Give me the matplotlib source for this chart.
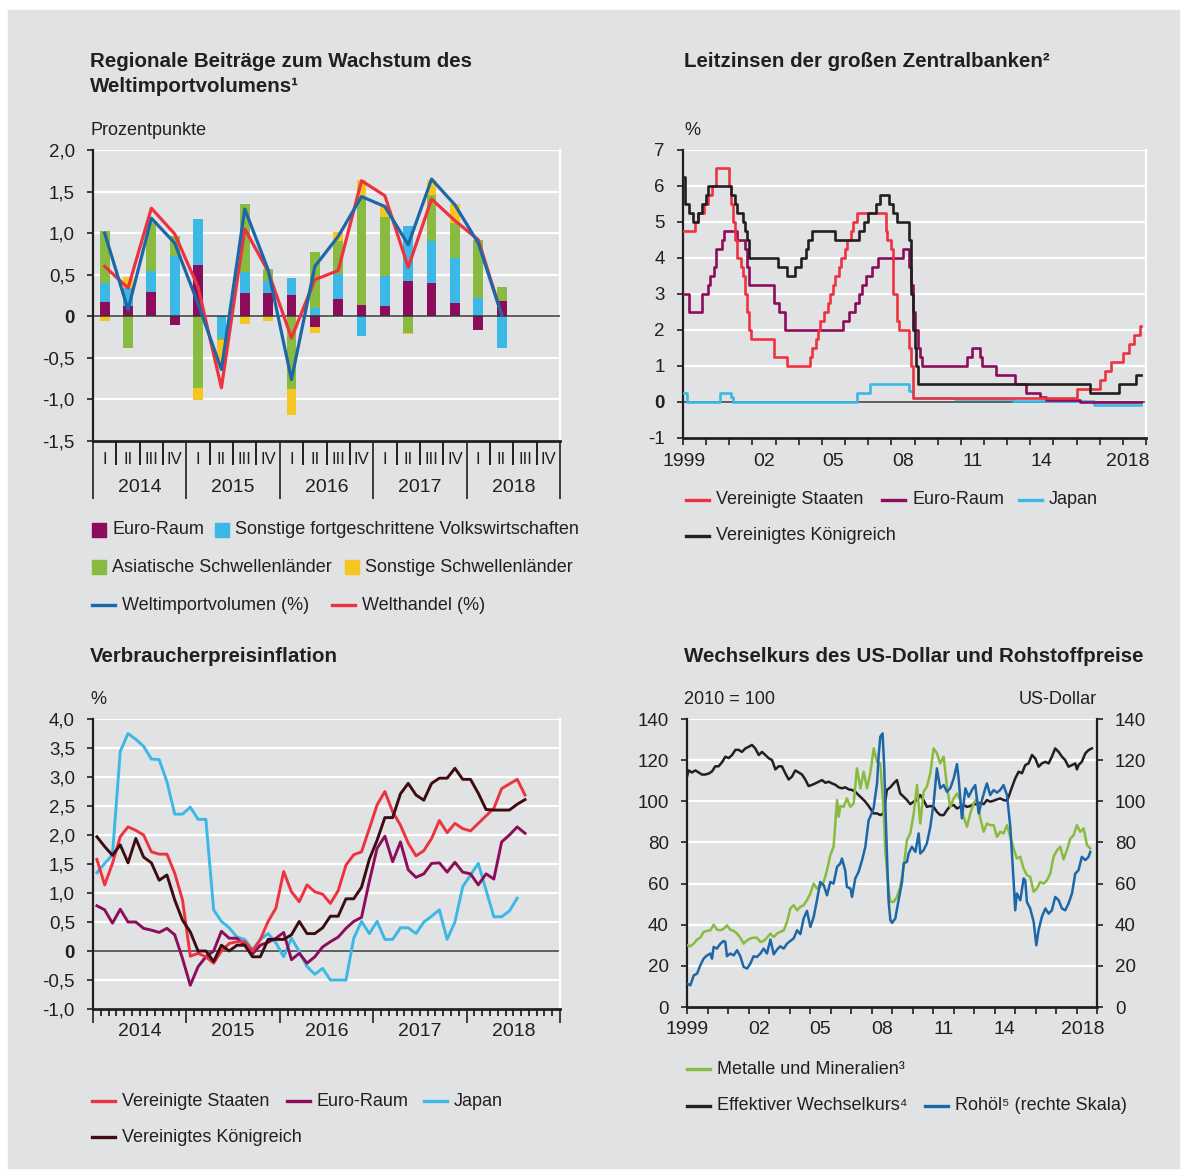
import numpy as np
import matplotlib.pyplot as plt
from matplotlib.patches import Rectangle
from matplotlib.lines import Line2D
from matplotlib import transforms

plt.rcParams['font.family'] = ['Liberation Sans', 'DejaVu Sans']
plt.rcParams['font.size'] = 12
INK = '#231f20'
plt.rcParams['text.color'] = INK

BG = '#e1e2e3'
RED = '#ee3340'
PURPLE = '#8c0d5b'
CYAN = '#3cb8e6'
GREEN = '#88bb3f'
YELLOW = '#f7c520'
NAVY = '#1d67a8'
DARK = '#3c0c10'

# ---- Panel 1: quarterly contributions (2014 Q1 .. 2018 Q2)
quarters = ['I', 'II', 'III', 'IV'] * 5
years_q = ['2014', '2015', '2016', '2017', '2018']
euro_contrib = [0.17, 0.12, 0.29, -0.10, 0.62, 0.0, 0.28, 0.28, 0.26, -0.13, 0.21, 0.14,
                0.12, 0.43, 0.40, 0.16, -0.17, 0.18]
adv_contrib = [0.23, 0.22, 0.26, 0.72, 0.55, -0.26, 0.25, 0.15, 0.20, 0.10, 0.30, -0.24,
               0.37, 0.66, 0.50, 0.54, 0.22, -0.38]
asia_contrib = [0.62, -0.38, 0.57, 0.24, -0.86, -0.03, 0.82, 0.14, -0.88, 0.67, 0.39, 1.28,
                0.71, -0.20, 0.56, 0.42, 0.70, 0.17]
em_contrib = [-0.06, 0.13, 0.03, 0.0, -0.15, -0.33, -0.09, -0.06, -0.31, -0.07, 0.11, 0.22,
              0.11, -0.01, 0.18, 0.23, 0.0, 0.0]
import_volume = [1.0, 0.08, 1.18, 0.88, 0.15, -0.64, 1.29, 0.56, -0.76, 0.60, 0.96, 1.44,
                 1.32, 0.86, 1.65, 1.34, 0.88, 0.02]
world_trade = [0.60, 0.34, 1.30, 0.99, 0.35, -0.86, 1.05, 0.54, -0.26, 0.44, 0.55, 1.63,
               1.45, 0.59, 1.41, 1.15, 0.92, 0.02]

# ---- Panel 2: policy rates, change dates and levels
us_rate_dates = ['1999-01', '1999-07', '1999-09', '1999-12', '2000-02', '2000-04', '2000-06',
                 '2001-01', '2001-02', '2001-03', '2001-04', '2001-05', '2001-07', '2001-08',
                 '2001-09', '2001-10', '2001-11', '2001-12', '2002-12', '2003-07', '2004-07',
                 '2004-08', '2004-10', '2004-11', '2004-12', '2005-02', '2005-04', '2005-05',
                 '2005-07', '2005-08', '2005-10', '2005-11', '2006-01', '2006-02', '2006-04',
                 '2006-05', '2006-07', '2007-10', '2007-11', '2008-01', '2008-02', '2008-04',
                 '2008-05', '2008-10', '2008-11', '2008-12', '2016-01', '2017-01', '2017-04',
                 '2017-07', '2018-01', '2018-04', '2018-07', '2018-10']
us_rate_vals = [4.75, 5.0, 5.25, 5.5, 5.75, 6.0, 6.5, 6.0, 5.5, 5.0, 4.5, 4.0, 3.75, 3.5, 3.0,
                2.5, 2.0, 1.75, 1.25, 1.0, 1.25, 1.5, 1.75, 2.0, 2.25, 2.5, 2.75, 3.0, 3.25,
                3.5, 3.75, 4.0, 4.25, 4.5, 4.75, 5.0, 5.25, 4.75, 4.5, 4.25, 3.0, 2.25, 2.0,
                1.5, 1.0, 0.125, 0.375, 0.625, 0.875, 1.125, 1.375, 1.625, 1.875, 2.125]
euro_rate_dates = ['1999-01', '1999-04', '1999-11', '2000-02', '2000-03', '2000-05', '2000-06',
                   '2000-09', '2000-10', '2001-05', '2001-09', '2001-10', '2001-11', '2002-12',
                   '2003-03', '2003-06', '2005-12', '2006-03', '2006-06', '2006-08', '2006-10',
                   '2006-12', '2007-03', '2007-06', '2008-07', '2008-10', '2008-11', '2008-12',
                   '2009-01', '2009-03', '2009-04', '2009-05', '2011-04', '2011-07', '2011-11',
                   '2011-12', '2012-07', '2013-05', '2013-11', '2014-06', '2014-09', '2016-03']
euro_rate_vals = [3.0, 2.5, 3.0, 3.25, 3.5, 3.75, 4.25, 4.5, 4.75, 4.5, 4.25, 3.75, 3.25, 2.75,
                  2.5, 2.0, 2.25, 2.5, 2.75, 3.0, 3.25, 3.5, 3.75, 4.0, 4.25, 3.75, 3.25, 2.5,
                  2.0, 1.5, 1.25, 1.0, 1.25, 1.5, 1.25, 1.0, 0.75, 0.5, 0.25, 0.15, 0.05, 0.0]
japan_rate_dates = ['1999-01', '1999-03', '2000-08', '2001-02', '2001-03', '2006-07', '2007-02',
                    '2008-10', '2008-12', '2010-10', '2013-04', '2016-10']
japan_rate_vals = [0.25, 0.0, 0.25, 0.15, 0.0, 0.25, 0.5, 0.3, 0.1, 0.07, 0.04, -0.07]
uk_rate_dates = ['1999-01', '1999-02', '1999-04', '1999-06', '1999-09', '1999-11', '2000-01',
                 '2000-02', '2001-02', '2001-04', '2001-05', '2001-08', '2001-09', '2001-10',
                 '2001-11', '2003-02', '2003-07', '2003-11', '2004-02', '2004-05', '2004-06',
                 '2004-08', '2005-08', '2006-08', '2006-11', '2007-01', '2007-05', '2007-07',
                 '2007-12', '2008-02', '2008-04', '2008-10', '2008-11', '2008-12', '2009-01',
                 '2009-02', '2009-03', '2016-08', '2017-11', '2018-08']
uk_rate_vals = [6.25, 5.5, 5.25, 5.0, 5.25, 5.5, 5.75, 6.0, 5.75, 5.5, 5.25, 5.0, 4.75, 4.5,
                4.0, 3.75, 3.5, 3.75, 4.0, 4.25, 4.5, 4.75, 4.5, 4.75, 5.0, 5.25, 5.5, 5.75,
                5.5, 5.25, 5.0, 4.5, 3.0, 2.0, 1.5, 1.0, 0.5, 0.25, 0.5, 0.75]
rate_end = 2018.78

# ---- Panel 3: monthly CPI inflation from Jan 2014
us_cpi = [1.58, 1.14, 1.51, 1.97, 2.14, 2.08, 2.0, 1.71, 1.67, 1.67, 1.34, 0.88,
          -0.09, -0.04, -0.1, -0.21, 0.0, 0.13, 0.16, 0.16, 0.0, 0.2, 0.51, 0.74,
          1.37, 1.02, 0.85, 1.14, 1.02, 0.98, 0.82, 1.04, 1.48, 1.66, 1.71, 2.11,
          2.52, 2.75, 2.40, 2.17, 1.86, 1.64, 1.73, 1.94, 2.25, 2.04, 2.2, 2.11,
          2.07, 2.2, 2.33, 2.46, 2.8, 2.88, 2.96, 2.69]
euro_cpi = [0.78, 0.71, 0.48, 0.72, 0.5, 0.5, 0.39, 0.36, 0.32, 0.39, 0.28, -0.13,
            -0.59, -0.27, -0.1, 0.0, 0.34, 0.22, 0.22, 0.1, -0.05, 0.1, 0.15, 0.22,
            0.32, -0.15, -0.04, -0.21, -0.1, 0.07, 0.16, 0.24, 0.39, 0.51, 0.58, 1.2,
            1.77, 1.98, 1.54, 1.88, 1.40, 1.27, 1.33, 1.51, 1.52, 1.36, 1.53, 1.36,
            1.33, 1.14, 1.33, 1.24, 1.88, 2.0, 2.14, 2.03]
japan_cpi = [1.35, 1.51, 1.66, 3.44, 3.75, 3.65, 3.53, 3.31, 3.30, 2.92, 2.36, 2.36,
             2.48, 2.27, 2.27, 0.71, 0.51, 0.40, 0.24, 0.2, 0.02, 0.2, 0.3, 0.14,
             -0.1, 0.22, -0.01, -0.27, -0.40, -0.30, -0.5, -0.5, -0.5, 0.22, 0.51, 0.3,
             0.51, 0.2, 0.2, 0.4, 0.4, 0.3, 0.5, 0.6, 0.71, 0.2, 0.5, 1.11,
             1.31, 1.51, 1.05, 0.59, 0.59, 0.69, 0.91]
uk_cpi = [1.97, 1.8, 1.65, 1.83, 1.52, 1.94, 1.62, 1.52, 1.22, 1.31, 0.88, 0.53,
          0.33, 0.0, 0.0, -0.18, 0.1, 0.0, 0.1, 0.1, -0.1, -0.1, 0.2, 0.2,
          0.2, 0.28, 0.51, 0.3, 0.3, 0.4, 0.6, 0.6, 0.9, 0.9, 1.1, 1.58,
          1.91, 2.3, 2.3, 2.71, 2.89, 2.69, 2.6, 2.89, 2.98, 2.98, 3.15, 2.96,
          2.96, 2.72, 2.44, 2.43, 2.43, 2.43, 2.53, 2.61]

# ---- Panel 4: exchange rate and commodity prices
fx_t = [1999.00, 1999.08, 1999.24, 1999.41, 1999.57, 1999.73, 1999.89, 2000.06, 2000.22,
        2000.38, 2000.54, 2000.71, 2000.87, 2001.03, 2001.20, 2001.36, 2001.52, 2001.68,
        2001.85, 2002.01, 2002.17, 2002.33, 2002.50, 2002.66, 2002.82, 2002.98, 2003.15,
        2003.31, 2003.47, 2003.63, 2003.80, 2003.96, 2004.12, 2004.28, 2004.45, 2004.61,
        2004.77, 2004.93, 2005.10, 2005.26, 2005.42, 2005.59, 2005.75, 2005.91, 2006.07,
        2006.24, 2006.40, 2006.56, 2006.72, 2006.89, 2007.05, 2007.21, 2007.37, 2007.54,
        2007.70, 2007.86, 2008.10, 2008.27, 2008.43, 2008.59, 2008.75, 2008.92, 2009.08,
        2009.24, 2009.40, 2009.57, 2009.73, 2009.89, 2010.05, 2010.22, 2010.38, 2010.54,
        2010.70, 2010.87, 2011.03, 2011.19, 2011.35, 2011.52, 2011.68, 2011.84, 2012.01,
        2012.17, 2012.33, 2012.49, 2012.66, 2012.82, 2012.98, 2013.14, 2013.31, 2013.47,
        2013.63, 2013.79, 2013.96, 2014.12, 2014.28, 2014.44, 2014.61, 2014.69, 2014.85,
        2015.01, 2015.18, 2015.34, 2015.50, 2015.66, 2015.83, 2015.99, 2016.15, 2016.31,
        2016.48, 2016.64, 2016.80, 2016.96, 2017.13, 2017.29, 2017.45, 2017.61, 2017.78,
        2017.94, 2018.02, 2018.10, 2018.26, 2018.43, 2018.59, 2018.75]
fx_v = [112, 115, 114, 115, 114, 113, 113, 113.5, 114.5, 117, 117, 119, 121.7, 121, 122.5,
        125, 125, 124, 125.7, 126.5, 127.4, 125.7, 122.5, 124, 122.5, 121, 120, 115.5, 117,
        117, 113.5, 110.6, 112, 115, 114, 113, 110.6, 107.4, 108, 108.7, 109.5, 110.3, 109,
        109.5, 108.7, 108, 106.8, 106.3, 106.8, 105.8, 105.5, 104.6, 103, 101.4, 99.8, 97.7,
        94.1, 94.1, 93.3, 94.1, 105.5, 106.8, 108.7, 110.3, 103.8, 102.2, 100.6, 98.6, 99.8,
        100.6, 103, 100.6, 97.3, 97.7, 97.3, 94.9, 93.3, 93.3, 95.7, 97.7, 98.2, 96.5, 97.3,
        98.2, 97.3, 97.7, 98.6, 98.6, 99.3, 98.6, 100.6, 99.8, 100.3, 100.9, 101.4, 100.6,
        100.3, 102.2, 106.8, 111.1, 114.4, 113.6, 117.6, 118.4, 122.5, 120.8, 116.8, 118.4,
        119.2, 118.4, 121.7, 125.7, 124, 121.7, 120, 116.8, 117.6, 118.4, 115.5, 117.6, 119.2,
        123.3, 124.9, 125.7]
metals_t = [1999.00, 1999.16, 1999.33, 1999.49, 1999.65, 1999.81, 1999.98, 2000.14, 2000.30,
            2000.46, 2000.63, 2000.79, 2000.95, 2001.11, 2001.28, 2001.44, 2001.60, 2001.76,
            2001.93, 2002.09, 2002.25, 2002.41, 2002.58, 2002.74, 2002.90, 2003.07, 2003.23,
            2003.39, 2003.55, 2003.72, 2003.88, 2004.04, 2004.20, 2004.37, 2004.53, 2004.69,
            2004.85, 2005.02, 2005.18, 2005.34, 2005.50, 2005.67, 2005.83, 2005.99, 2006.15,
            2006.32, 2006.40, 2006.48, 2006.64, 2006.80, 2006.97, 2007.13, 2007.29, 2007.46,
            2007.62, 2007.78, 2007.94, 2008.11, 2008.27, 2008.43, 2008.59, 2008.67, 2008.83,
            2008.92, 2009.08, 2009.24, 2009.40, 2009.57, 2009.73, 2009.89, 2010.05, 2010.22,
            2010.38, 2010.54, 2010.70, 2010.87, 2011.03, 2011.19, 2011.35, 2011.52, 2011.68,
            2011.84, 2012.01, 2012.17, 2012.33, 2012.49, 2012.66, 2012.82, 2012.98, 2013.14,
            2013.31, 2013.47, 2013.63, 2013.79, 2013.96, 2014.12, 2014.28, 2014.44, 2014.61,
            2014.77, 2014.93, 2015.09, 2015.26, 2015.42, 2015.58, 2015.74, 2015.91, 2016.07,
            2016.23, 2016.40, 2016.56, 2016.72, 2016.88, 2017.05, 2017.21, 2017.37, 2017.53,
            2017.70, 2017.86, 2018.02, 2018.18, 2018.35, 2018.51, 2018.67]
metals_v = [30, 29.5, 30.8, 32.8, 33.7, 36.5, 37, 37.3, 40, 37.6, 37.3, 38, 39.7, 37.6, 37,
            35.7, 33.7, 30.8, 32.4, 33.3, 33.7, 33.7, 31.6, 32.1, 33.7, 35.7, 34, 35.7, 36.5,
            37.3, 41.4, 47.9, 49.5, 47, 48.7, 49.5, 51.9, 55.2, 60, 57.6, 58.4, 60.8, 66.5,
            73.8, 77.9, 100.6, 92.5, 97.7, 97.3, 101.4, 97.3, 99, 116, 106.3, 114.4, 106.3,
            113.6, 125.7, 119.2, 118.4, 95.7, 76.2, 57.6, 51.1, 51.1, 53.5, 58.4, 68.1, 81.1,
            84.4, 93.3, 107.9, 89.2, 104.6, 107.1, 113.6, 125.7, 123.3, 118.4, 121.7, 107.1,
            97.3, 101.4, 103.8, 100.6, 92.5, 87.6, 94.1, 99, 101.4, 91.7, 85.2, 89.2, 88.4,
            88.4, 82.7, 85.2, 84.4, 88.4, 82.7, 77.1, 72.2, 73, 67.3, 64.1, 63.3, 56, 57.6,
            60.8, 60, 61.6, 64.9, 73, 76.2, 77.9, 71.7, 76.2, 81.9, 83.5, 88.4, 85.2, 86.8,
            78.7, 77.1]
oil_t = [1999.00, 1999.16, 1999.33, 1999.49, 1999.65, 1999.81, 1999.98, 2000.14, 2000.22,
         2000.30, 2000.46, 2000.63, 2000.79, 2000.87, 2000.95, 2001.11, 2001.28, 2001.44,
         2001.60, 2001.76, 2001.93, 2002.09, 2002.25, 2002.41, 2002.58, 2002.74, 2002.90,
         2003.07, 2003.23, 2003.39, 2003.55, 2003.72, 2003.88, 2004.04, 2004.20, 2004.37,
         2004.53, 2004.69, 2004.85, 2005.02, 2005.18, 2005.34, 2005.50, 2005.67, 2005.83,
         2005.99, 2006.15, 2006.32, 2006.48, 2006.56, 2006.72, 2006.80, 2006.97, 2007.05,
         2007.21, 2007.37, 2007.54, 2007.70, 2007.86, 2007.94, 2008.10, 2008.27, 2008.35,
         2008.43, 2008.54, 2008.62, 2008.72, 2008.83, 2008.92, 2009.00, 2009.16, 2009.32,
         2009.49, 2009.57, 2009.73, 2009.81, 2009.97, 2010.14, 2010.30, 2010.38, 2010.54,
         2010.70, 2010.87, 2011.03, 2011.19, 2011.35, 2011.52, 2011.68, 2011.84, 2012.01,
         2012.17, 2012.25, 2012.41, 2012.58, 2012.74, 2012.90, 2013.06, 2013.23, 2013.39,
         2013.55, 2013.63, 2013.79, 2013.96, 2014.12, 2014.28, 2014.44, 2014.61, 2014.77,
         2014.93, 2015.01, 2015.09, 2015.26, 2015.42, 2015.50, 2015.58, 2015.74, 2015.91,
         2016.04, 2016.15, 2016.31, 2016.48, 2016.64, 2016.80, 2016.96, 2017.13, 2017.29,
         2017.45, 2017.61, 2017.78, 2017.94, 2018.10, 2018.26, 2018.43, 2018.59, 2018.67]
oil_v = [11.4, 10.5, 15.4, 16.2, 20.3, 23.5, 25.1, 26, 23.5, 29.2, 28.4, 30.8, 32.1, 31.6,
         24.7, 26, 25.1, 27.6, 24.7, 19.5, 18.7, 21.1, 24.7, 24.3, 26, 28.4, 26, 32.8, 25.6,
         27.9, 29.5, 28.4, 30.8, 32.1, 33.3, 37.3, 35.4, 43, 46.7, 38.9, 43.8, 51.9, 60.8,
         59.2, 54.3, 60.8, 60, 68.1, 69.8, 72.2, 66.2, 58.4, 57.6, 53.5, 62.5, 65.7, 71.4,
         77.9, 90.8, 92.5, 96.5, 108.7, 122.5, 131.4, 133, 116.8, 84.4, 51.9, 42.2, 40.9, 43,
         51.9, 60.8, 69.8, 70.6, 74.6, 77.9, 75.4, 84.4, 74.6, 76.2, 79.5, 87.6, 99, 116,
         106.3, 107.9, 104.6, 106.3, 111.1, 118.1, 111.1, 91.7, 106.3, 102.2, 105.5, 107.9,
         94.1, 100.6, 106.3, 108.7, 103, 105.5, 104.2, 105.5, 107.9, 103, 87.6, 61.6, 47,
         55.2, 51.9, 62.5, 61.6, 51.1, 47.9, 41.4, 30, 37.3, 43.8, 47.9, 45.4, 47, 53.5,
         51.9, 47.9, 47, 50.3, 55.2, 64.9, 66.5, 73, 71.4, 73, 75.4]

W, H = 1181, 1172
fig = plt.figure(figsize=(W / 100, H / 100), dpi=100, facecolor='white')

TITLE_FS = 14.8
TEXT_FS = 13
TICK_FS = 13.5


def fx(px):
    return px / W


def fy(py):
    return 1 - py / H


def add_ax(l, t, r, b):
    ax = fig.add_axes([fx(l), fy(b), (r - l) / W, (b - t) / H])
    ax.set_facecolor('none')
    return ax


def style(ax, right_color='white'):
    ax.spines['top'].set_visible(False)
    ax.spines['left'].set_color(INK)
    ax.spines['left'].set_linewidth(1.6)
    ax.spines['bottom'].set_color(INK)
    ax.spines['bottom'].set_linewidth(2)
    ax.spines['right'].set_color(right_color)
    ax.spines['right'].set_linewidth(1.6)
    ax.yaxis.grid(True, color='white', lw=1.6)
    ax.set_axisbelow(True)
    ax.tick_params(axis='y', length=4, width=1.2, pad=9, labelsize=TICK_FS, color=INK,
                   labelcolor=INK)
    ax.tick_params(axis='x', color=INK, width=1.2)


def bold_zero(ax):
    for lbl in ax.get_yticklabels():
        if lbl.get_text() == '0':
            lbl.set_fontweight('bold')


def fmt(v):
    return '0' if v == 0 else f'{v:.1f}'.replace('.', ',')


def to_year(d):
    y, m = d.split('-')
    return int(y) + (int(m) - 1) / 12


def legend_line(x, y, color, label):
    fig.add_artist(Line2D([fx(x), fx(x + 23)], [fy(y), fy(y)], color=color, lw=2.4,
                          transform=fig.transFigure))
    fig.text(fx(x + 30), fy(y), label, va='center', fontsize=TEXT_FS)


def legend_box(x, y, color, label):
    fig.add_artist(Rectangle((fx(x), fy(y + 7)), 14 / W, 14 / H, color=color,
                             transform=fig.transFigure))
    fig.text(fx(x + 20), fy(y), label, va='center', fontsize=TEXT_FS)


fig.add_artist(Rectangle((fx(8), fy(1168)), (1179 - 8) / W, (1168 - 10) / H,
                         transform=fig.transFigure, color=BG, zorder=-10))

# ================= Panel 1 =================
ax1 = add_ax(93, 150, 560, 441)
style(ax1)
xq = np.arange(len(import_volume)) + 0.5
pos_base = np.zeros(len(xq))
neg_base = np.zeros(len(xq))
for vals, col in [(euro_contrib, PURPLE), (adv_contrib, CYAN), (asia_contrib, GREEN),
                  (em_contrib, YELLOW)]:
    v = np.array(vals)
    pos = np.where(v > 0, v, 0)
    neg = np.where(v < 0, v, 0)
    ax1.bar(xq, pos, 0.42, bottom=pos_base, color=col, zorder=2)
    ax1.bar(xq, neg, 0.42, bottom=neg_base, color=col, zorder=2)
    pos_base += pos
    neg_base += neg
ax1.axhline(0, color='#333333', lw=1.1, zorder=3)
ax1.plot(xq, world_trade, color=RED, lw=2.3, zorder=4)
ax1.plot(xq, import_volume, color=NAVY, lw=2.3, zorder=5)
ax1.set_xlim(0, 20)
ax1.set_ylim(-1.5, 2.0)
yt1 = np.arange(-1.5, 2.01, 0.5)
ax1.set_yticks(yt1, [fmt(round(v, 1)) for v in yt1])
bold_zero(ax1)
ax1.set_xticks(range(0, 21, 4))
ax1.set_xticks(range(21), minor=True)
ax1.tick_params(axis='x', which='major', length=42, labelbottom=False)
ax1.tick_params(axis='x', which='minor', length=17.5, width=1.2)
tr1 = transforms.blended_transform_factory(ax1.transData, fig.transFigure)
for i, q in enumerate(quarters):
    ax1.text(i + 0.5, fy(459), q, transform=tr1, ha='center', va='center', fontsize=12)
for i, yr in enumerate(years_q):
    ax1.text(i * 4 + 2, fy(487), yr, transform=tr1, ha='center', va='center', fontsize=14)

fig.text(fx(90), fy(67), 'Regionale Beiträge zum Wachstum des', fontsize=TITLE_FS,
         fontweight='bold', va='baseline')
fig.text(fx(90), fy(92), 'Weltimportvolumens¹', fontsize=TITLE_FS, fontweight='bold',
         va='baseline')
fig.text(fx(90), fy(135), 'Prozentpunkte', fontsize=TEXT_FS, va='baseline')

legend_box(92, 530, PURPLE, 'Euro-Raum')
legend_box(215, 530, CYAN, 'Sonstige fortgeschrittene Volkswirtschaften')
legend_box(92, 567, GREEN, 'Asiatische Schwellenländer')
legend_box(345, 567, YELLOW, 'Sonstige Schwellenländer')
legend_line(92, 605, NAVY, 'Weltimportvolumen (%)')
legend_line(332, 605, RED, 'Welthandel (%)')

# ================= Panel 2 =================
ax2 = add_ax(683, 150, 1146, 438)
style(ax2)
for dates, vals, col in [(japan_rate_dates, japan_rate_vals, CYAN),
                         (euro_rate_dates, euro_rate_vals, PURPLE),
                         (us_rate_dates, us_rate_vals, RED),
                         (uk_rate_dates, uk_rate_vals, INK)]:
    t = [to_year(d) for d in dates] + [rate_end]
    v = list(vals) + [vals[-1]]
    ax2.step(t, v, where='post', color=col, lw=1.9, zorder=3)
ax2.axhline(0, color='#333333', lw=1.1, zorder=2)
ax2.set_xlim(1999, 2019)
ax2.set_ylim(-1, 7)
ax2.set_yticks(range(-1, 8), [str(v) for v in range(-1, 8)])
bold_zero(ax2)
ax2.set_xticks(range(1999, 2020))
ax2.tick_params(axis='x', length=5, labelbottom=False)
tr2 = transforms.blended_transform_factory(ax2.transData, fig.transFigure)
for xpos, lbl in [(1999.05, '1999'), (2002.5, '02'), (2005.5, '05'), (2008.5, '08'),
                  (2011.5, '11'), (2014.5, '14'), (2018.2, '2018')]:
    ax2.text(xpos, fy(462), lbl, transform=tr2, ha='center', va='center', fontsize=14)

fig.text(fx(684), fy(67), 'Leitzinsen der großen Zentralbanken²', fontsize=TITLE_FS,
         fontweight='bold', va='baseline')
fig.text(fx(684), fy(135), '%', fontsize=TEXT_FS, va='baseline')

legend_line(686, 500, RED, 'Vereinigte Staaten')
legend_line(882, 500, PURPLE, 'Euro-Raum')
legend_line(1019, 500, CYAN, 'Japan')
legend_line(686, 536, INK, 'Vereinigtes Königreich')

# ================= Panel 3 =================
ax3 = add_ax(93, 719, 560, 1009)
style(ax3)
xm = 2014 + (np.arange(len(us_cpi)) + 0.5) / 12
xj = 2014 + (np.arange(len(japan_cpi)) + 0.5) / 12
ax3.axhline(0, color='#333333', lw=1.1, zorder=2)
ax3.plot(xj, japan_cpi, color=CYAN, lw=2.1, zorder=3)
ax3.plot(xm, euro_cpi, color=PURPLE, lw=2.1, zorder=4)
ax3.plot(xm, us_cpi, color=RED, lw=2.1, zorder=5)
ax3.plot(xm, uk_cpi, color=DARK, lw=2.1, zorder=6)
ax3.set_xlim(2014, 2019)
ax3.set_ylim(-1.0, 4.0)
yt3 = np.arange(-1.0, 4.01, 0.5)
ax3.set_yticks(yt3, [fmt(round(v, 1)) for v in yt3])
bold_zero(ax3)
ax3.set_xticks(range(2014, 2020))
ax3.set_xticks(2014 + np.arange(61) / 12, minor=True)
ax3.tick_params(axis='x', which='major', length=10, labelbottom=False)
ax3.tick_params(axis='x', which='minor', length=5, width=1.1)
tr3 = transforms.blended_transform_factory(ax3.transData, fig.transFigure)
for yr in range(2014, 2019):
    ax3.text(yr + 0.5, fy(1032), str(yr), transform=tr3, ha='center', va='center',
             fontsize=14)

fig.text(fx(90), fy(662), 'Verbraucherpreisinflation', fontsize=TITLE_FS, fontweight='bold',
         va='baseline')
fig.text(fx(90), fy(704), '%', fontsize=TEXT_FS, va='baseline')

legend_line(92, 1101, RED, 'Vereinigte Staaten')
legend_line(287, 1101, PURPLE, 'Euro-Raum')
legend_line(424, 1101, CYAN, 'Japan')
legend_line(92, 1137, DARK, 'Vereinigtes Königreich')

# ================= Panel 4 =================
ax4 = add_ax(687, 719, 1097, 1007)
style(ax4, right_color=INK)
ax4.plot(fx_t, fx_v, color=INK, lw=1.8, zorder=3)
ax4.plot(metals_t, metals_v, color=GREEN, lw=1.8, zorder=4)
ax4.plot(oil_t, oil_v, color=NAVY, lw=1.8, zorder=5)
ax4.set_xlim(1999, 2019)
ax4.set_ylim(0, 140)
ax4.set_yticks(range(0, 141, 20))
ax4.yaxis.set_ticks_position('both')
ax4.tick_params(axis='y', labelright=True)
ax4.set_xticks(range(1999, 2020))
ax4.tick_params(axis='x', length=5, labelbottom=False)
tr4 = transforms.blended_transform_factory(ax4.transData, fig.transFigure)
for xpos, lbl in [(1999.0, '1999'), (2002.5, '02'), (2005.5, '05'), (2008.5, '08'),
                  (2011.5, '11'), (2014.5, '14'), (2018.3, '2018')]:
    ax4.text(xpos, fy(1030), lbl, transform=tr4, ha='center', va='center', fontsize=14)

fig.text(fx(684), fy(662), 'Wechselkurs des US-Dollar und Rohstoffpreise', fontsize=TITLE_FS,
         fontweight='bold', va='baseline')
fig.text(fx(684), fy(704), '2010 = 100', fontsize=TEXT_FS, va='baseline')
fig.text(fx(1097), fy(704), 'US-Dollar', fontsize=TEXT_FS, va='baseline', ha='right')

legend_line(687, 1069, GREEN, 'Metalle und Mineralien³')
legend_line(687, 1106, INK, 'Effektiver Wechselkurs⁴')
legend_line(925, 1106, NAVY, 'Rohöl⁵ (rechte Skala)')

fig.savefig('out.png', dpi=100, facecolor=fig.get_facecolor())
